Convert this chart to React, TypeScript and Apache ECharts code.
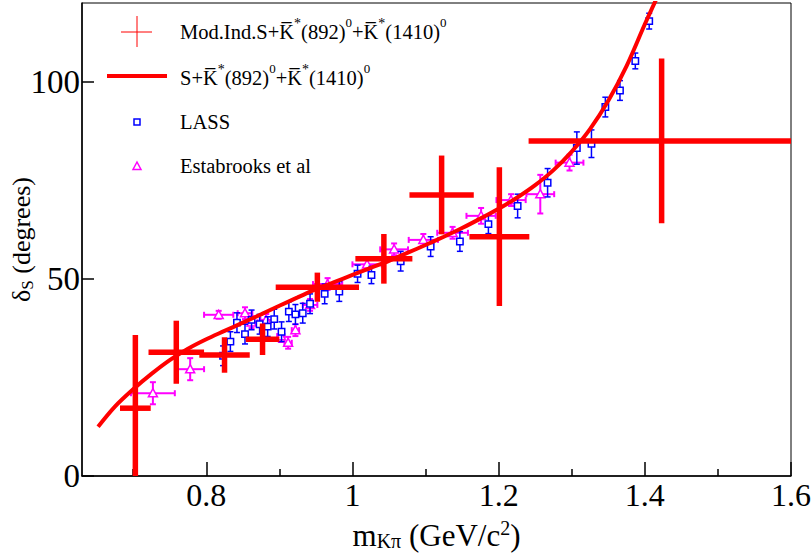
import React, { useEffect, useRef } from 'react';
import * as echarts from 'echarts';

// Mod.Ind. S + K*(892) + K*(1410) fit points (red crosses)
const modX = [0.703, 0.759, 0.825, 0.877, 0.952, 1.043, 1.122, 1.201, 1.423];
const modY = [17.2, 31.4, 30.7, 34.7, 47.9, 55.1, 71.3, 60.7, 85.0];
const modXErr = [0.021, 0.038, 0.0345, 0.023, 0.057, 0.039, 0.044, 0.041, 0.182];
const modYErr = [18.6, 8.0, 4.5, 4.0, 3.7, 6.3, 10.0, 17.6, 20.9];

// S + K*(892) + K*(1410) curve
const curveX = [0.652, 0.675, 0.700, 0.725, 0.750, 0.775, 0.800, 0.825, 0.850, 0.875, 0.900, 0.925, 0.950, 0.975, 1.000, 1.025, 1.050, 1.075, 1.100, 1.125, 1.150, 1.175, 1.200, 1.225, 1.250, 1.275, 1.300, 1.325, 1.350, 1.375, 1.400, 1.417];
const curveY = [12.5, 17.6, 22.0, 25.9, 29.4, 32.3, 34.7, 36.8, 38.9, 41.0, 43.2, 45.3, 47.4, 49.2, 51.0, 52.8, 54.6, 56.6, 58.6, 60.7, 62.9, 65.3, 67.8, 70.6, 73.8, 77.6, 82.3, 88.0, 95.2, 104.0, 114.6, 121.5];

// LASS
const lassX = [0.823, 0.833, 0.842, 0.853, 0.862, 0.873, 0.884, 0.893, 0.903, 0.913, 0.922, 0.932, 0.942, 0.962, 0.982, 1.007, 1.026, 1.066, 1.107, 1.147, 1.186, 1.226, 1.267, 1.307, 1.327, 1.346, 1.366, 1.387, 1.406];
const lassY = [30.5, 34.1, 38.9, 36.0, 39.6, 38.5, 37.9, 39.8, 36.6, 41.7, 41.0, 41.3, 43.7, 46.2, 46.8, 51.3, 51.0, 54.5, 58.2, 59.5, 63.9, 68.5, 74.4, 83.2, 84.3, 93.6, 97.8, 105.3, 115.4];
const lassErr = [2.5, 2.5, 2.5, 2.5, 2.5, 2.5, 2.5, 2.5, 2.5, 2.5, 2.5, 2.5, 2.5, 2.5, 2.5, 2.2, 2.2, 2.5, 2.5, 2.5, 2.4, 3.0, 3.6, 4.1, 3.5, 2.5, 2.5, 2.0, 2.0];

// Estabrooks et al
const estX = [0.727, 0.778, 0.817, 0.853, 0.862, 0.882, 0.902, 0.912, 0.922, 0.942, 0.966, 1.020, 1.057, 1.097, 1.137, 1.176, 1.217, 1.257, 1.297];
const estY = [21.0, 27.1, 40.9, 41.3, 39.0, 39.6, 35.5, 33.8, 37.0, 43.4, 48.7, 53.7, 57.5, 59.9, 61.7, 66.0, 70.0, 71.5, 79.5];
const estXErr = [0.03, 0.019, 0.02, 0.01, 0.008, 0.008, 0.005, 0.005, 0.005, 0.01, 0.02, 0.02, 0.019, 0.02, 0.021, 0.02, 0.02, 0.019, 0.019];
const estYErr = [2.8, 2.8, 1.0, 1.5, 1.5, 1.5, 1.5, 1.5, 1.5, 1.5, 1.5, 1.5, 1.5, 1.5, 1.5, 2.0, 1.5, 4.9, 2.0];

const xTicks = [0.8, 1, 1.2, 1.4, 1.6];
const xMinorTicks = [0.7, 0.9, 1.1, 1.3, 1.5];
const yTicks = [0, 50, 100];

const FONT = '"Liberation Serif", "Times New Roman", serif';
const RED = '#ff0000';
const BLUE = '#0000ff';
const MAGENTA = '#ff00ff';

const supStyle = { fontSize: 13, fontFamily: FONT, fill: '#000', color: '#000', padding: [0, 0, 20, 0] };
const starStyle = { fontSize: 14, fontFamily: FONT, fill: '#000', color: '#000', padding: [0, 0, 18, 0] };

export default function App() {
  const ref = useRef<HTMLDivElement>(null);
  useEffect(() => {
    if (!ref.current) return;
    const chart = echarts.init(ref.current, undefined, { renderer: 'svg' });

    const modRender = (params: any, api: any) => {
      const x = api.value(0), y = api.value(1), ex = api.value(2), ey = api.value(3);
      const l = api.coord([x - ex, y]);
      const r = api.coord([x + ex, y]);
      const t = api.coord([x, y + ey]);
      const b = api.coord([x, y - ey]);
      const st = { stroke: RED, lineWidth: 5.5 };
      return {
        type: 'group',
        children: [
          { type: 'line', shape: { x1: l[0], y1: l[1], x2: r[0], y2: r[1] }, style: st },
          { type: 'line', shape: { x1: t[0], y1: t[1], x2: b[0], y2: b[1] }, style: st },
        ],
      };
    };

    const lassRender = (params: any, api: any) => {
      const x = api.value(0), y = api.value(1), e = api.value(2);
      const c = api.coord([x, y]);
      const t = api.coord([x, y + e]);
      const b = api.coord([x, y - e]);
      const s = 3.2, cap = 3;
      const st = { stroke: BLUE, lineWidth: 1.5 };
      return {
        type: 'group',
        children: [
          { type: 'line', shape: { x1: c[0], y1: t[1], x2: c[0], y2: b[1] }, style: st },
          { type: 'line', shape: { x1: c[0] - cap, y1: t[1], x2: c[0] + cap, y2: t[1] }, style: st },
          { type: 'line', shape: { x1: c[0] - cap, y1: b[1], x2: c[0] + cap, y2: b[1] }, style: st },
          { type: 'rect', shape: { x: c[0] - s, y: c[1] - s, width: 2 * s, height: 2 * s }, style: { fill: '#fff', stroke: BLUE, lineWidth: 1.5 } },
        ],
      };
    };

    const estRender = (params: any, api: any) => {
      const x = api.value(0), y = api.value(1), ex = api.value(2), ey = api.value(3);
      const c = api.coord([x, y]);
      const l = api.coord([x - ex, y]);
      const r = api.coord([x + ex, y]);
      const t = api.coord([x, y + ey]);
      const b = api.coord([x, y - ey]);
      const cap = 3;
      const st = { stroke: MAGENTA, lineWidth: 2 };
      const h = 4.5;
      return {
        type: 'group',
        children: [
          { type: 'line', shape: { x1: l[0], y1: c[1], x2: r[0], y2: c[1] }, style: st },
          { type: 'line', shape: { x1: c[0], y1: t[1], x2: c[0], y2: b[1] }, style: st },
          { type: 'line', shape: { x1: l[0], y1: c[1] - cap, x2: l[0], y2: c[1] + cap }, style: st },
          { type: 'line', shape: { x1: r[0], y1: c[1] - cap, x2: r[0], y2: c[1] + cap }, style: st },
          { type: 'line', shape: { x1: c[0] - cap, y1: t[1], x2: c[0] + cap, y2: t[1] }, style: st },
          { type: 'line', shape: { x1: c[0] - cap, y1: b[1], x2: c[0] + cap, y2: b[1] }, style: st },
          { type: 'polygon', shape: { points: [[c[0], c[1] - h], [c[0] + h, c[1] + h * 0.8], [c[0] - h, c[1] + h * 0.8]] }, style: { fill: '#fff', stroke: MAGENTA, lineWidth: 1.5 } },
        ],
      };
    };

    const fmt = (v: number) => String(+Number(v).toFixed(1));

    const legendText = (text: string, y: number) => ({
      type: 'text',
      x: 180,
      y,
      style: {
        text,
        fill: '#000',
        fontSize: 20.5,
        fontFamily: FONT,
        verticalAlign: 'middle',
        align: 'left',
        rich: { sup: supStyle, star: starStyle },
      },
    });

    const option: any = {
      animation: false,
      backgroundColor: '#fff',
      textStyle: { fontFamily: FONT, color: '#000' },
      grid: {
        left: 82, right: 20, top: 3, bottom: 77,
        show: true, borderColor: '#000', borderWidth: 1,
        outerBoundsMode: 'none',
      },
      xAxis: [
        {
          type: 'value', min: 0.63, max: 1.6,
          axisLine: { show: true, onZero: false, lineStyle: { color: '#000', width: 1.5 } },
          axisTick: { show: true, inside: true, length: 14, customValues: xTicks, lineStyle: { color: '#000', width: 1.5 } },
          axisLabel: { customValues: xTicks, fontSize: 32, color: '#000', fontFamily: FONT, margin: 3, formatter: fmt },
          splitLine: { show: false },
          name: 'm{sub|Kπ} (GeV/c{sup|2})',
          nameLocation: 'middle',
          nameGap: 42,
          nameMoveOverlap: false,
          nameTextStyle: {
            fontSize: 31, color: '#000', fontFamily: FONT,
            rich: {
              sub: { fontSize: 20, fontFamily: FONT, color: '#000', padding: [12, 0, 0, 0] },
              sup: { fontSize: 20, fontFamily: FONT, color: '#000', padding: [0, 0, 14, 0] },
            },
          },
        },
        {
          type: 'value', min: 0.63, max: 1.6, position: 'bottom',
          axisLine: { show: false },
          axisTick: { show: true, inside: true, length: 7, customValues: xMinorTicks, lineStyle: { color: '#000', width: 1.5 } },
          axisLabel: { show: false },
          splitLine: { show: false },
        },
      ],
      yAxis: {
        type: 'value', min: 0, max: 120,
        axisLine: { show: true, onZero: false, lineStyle: { color: '#000', width: 1.5 } },
        axisTick: { show: true, inside: true, length: 12, customValues: yTicks, lineStyle: { color: '#000', width: 1.5 } },
        axisLabel: { customValues: yTicks, fontSize: 33, color: '#000', fontFamily: FONT, margin: 2 },
        splitLine: { show: false },
        name: 'δ{sub|S} (degrees)',
        nameLocation: 'middle',
        nameRotate: 90,
        nameGap: 46,
        nameMoveOverlap: false,
        nameTextStyle: {
          fontSize: 26, color: '#000', fontFamily: FONT,
          rich: {
            sub: { fontSize: 17, fontFamily: FONT, color: '#000', padding: [12, 0, 0, 0] },
          },
        },
      },
      series: [
        {
          type: 'custom', name: 'Estabrooks et al', renderItem: estRender, clip: true,
          data: estX.map((x, i) => [x, estY[i], estXErr[i], estYErr[i]]),
          encode: { x: 0, y: 1 }, xAxisIndex: 0, yAxisIndex: 0, z: 2,
        },
        {
          type: 'custom', name: 'LASS', renderItem: lassRender, clip: true,
          data: lassX.map((x, i) => [x, lassY[i], lassErr[i]]),
          encode: { x: 0, y: 1 }, xAxisIndex: 0, yAxisIndex: 0, z: 3,
        },
        {
          type: 'line', name: 'S+K*(892)+K*(1410)', smooth: 0.3, showSymbol: false, symbol: 'none', clip: true,
          data: curveX.map((x, i) => [x, curveY[i]]),
          lineStyle: { color: RED, width: 4 }, xAxisIndex: 0, yAxisIndex: 0, z: 4,
        },
        {
          type: 'custom', name: 'Mod.Ind.', renderItem: modRender, clip: true,
          data: modX.map((x, i) => [x, modY[i], modXErr[i], modYErr[i]]),
          encode: { x: 0, y: 1 }, xAxisIndex: 0, yAxisIndex: 0, z: 5,
        },
      ],
      graphic: [
        { type: 'line', shape: { x1: 121, y1: 32, x2: 152, y2: 32 }, style: { stroke: RED, lineWidth: 1 } },
        { type: 'line', shape: { x1: 137, y1: 16, x2: 137, y2: 47 }, style: { stroke: RED, lineWidth: 1 } },
        legendText('Mod.Ind.S+K\u0305{star|*}(892){sup|0}+K\u0305{star|*}(1410){sup|0}', 32),
        { type: 'line', shape: { x1: 107, y1: 76, x2: 167, y2: 76 }, style: { stroke: RED, lineWidth: 4 } },
        legendText('S+K\u0305{star|*}(892){sup|0}+K\u0305{star|*}(1410){sup|0}', 78),
        { type: 'rect', shape: { x: 134, y: 119, width: 6, height: 6 }, style: { fill: '#fff', stroke: BLUE, lineWidth: 1.5 } },
        legendText('LASS', 122),
        { type: 'polygon', shape: { points: [[137, 162], [141, 169.5], [133, 169.5]] }, style: { fill: '#fff', stroke: MAGENTA, lineWidth: 1.5 } },
        legendText('Estabrooks et al', 166),
      ],
    };
    chart.setOption(option);
    return () => chart.dispose();
  }, []);
  return <div ref={ref} style={{ position: 'fixed', left: 0, top: 0, width: 811, height: 553, background: '#fff' }} />;
}
